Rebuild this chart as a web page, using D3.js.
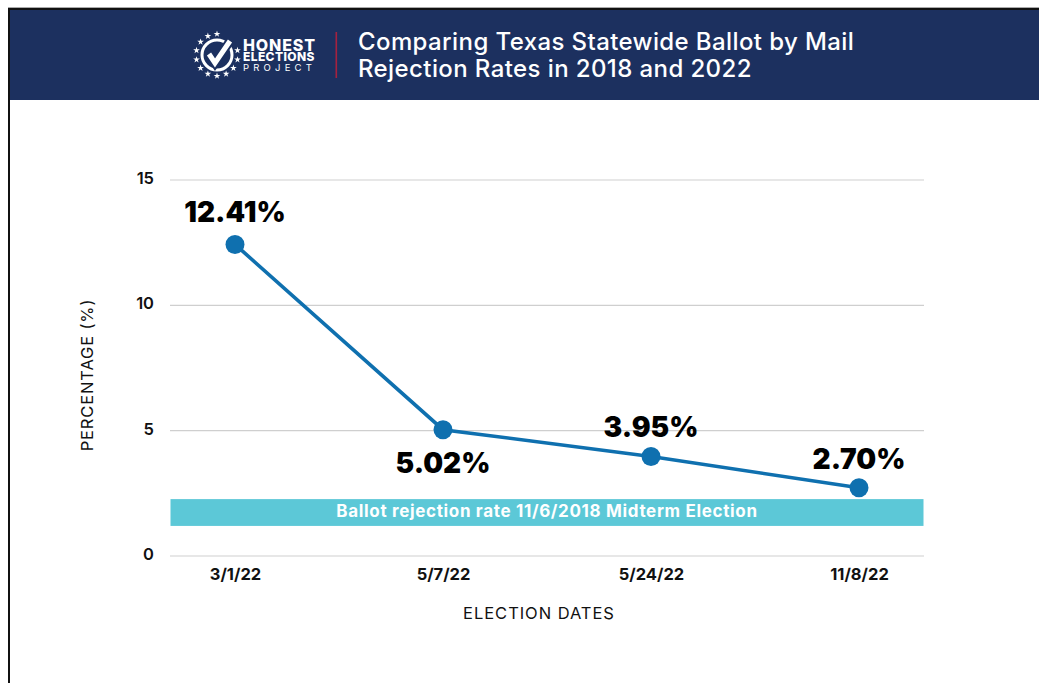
<!DOCTYPE html>
<html>
<head>
<meta charset="utf-8">
<script src="https://cdn.jsdelivr.net/npm/d3@7"></script>
<style>
  html, body { margin: 0; padding: 0; background: #fff; }
  svg { display: block; font-family: Inter, "Open Sans", sans-serif; }
</style>
</head>
<body>
<svg id="chart" width="1039" height="683"></svg>
<script>
// Rejection rates per election date
const electionDates = ["3/1/22", "5/7/22", "5/24/22", "11/8/22"];
const rejectionRates = [12.41, 5.02, 3.95, 2.70];
const yTicks = [0, 5, 10, 15];
const midtermBand = [1.18, 2.25];
const titleLines = ["Comparing Texas Statewide Ballot by Mail", "Rejection Rates in 2018 and 2022"];
const logoLines = ["HONEST", "ELECTIONS", "PROJECT"];
const bandLabel = "Ballot rejection rate 11/6/2018 Midterm Election";
const labelOffsets = [-33, 33, -30, -29];

const svg = d3.select("#chart");
const x = d3.scalePoint().domain(electionDates).range([170, 924]).padding(0.3125);
const y = d3.scaleLinear().domain([0, 15]).range([555.5, 179.5]);

// Page frame and header bar
svg.append("rect").attr("x", 8).attr("y", 7).attr("width", 1031).attr("height", 1).attr("fill", "#aaa");
svg.append("rect").attr("x", 8).attr("y", 8).attr("width", 2).attr("height", 675).attr("fill", "#111");
svg.append("rect").attr("x", 8).attr("y", 8).attr("width", 1031).attr("height", 2).attr("fill", "#111");
svg.append("rect").attr("x", 10).attr("y", 10).attr("width", 1029).attr("height", 90).attr("fill", "#1c305f");

// Logo: ring of stars around a checked circle
const logo = svg.append("g").attr("transform", "translate(217,55)");
logo.append("circle").attr("r", 15).attr("fill", "none").attr("stroke", "#fff").attr("stroke-width", 3);
logo.append("path").attr("d", "M-8,-1 L-2,8 L13,-14")
  .attr("fill", "none").attr("stroke", "#1c305f").attr("stroke-width", 9);
logo.append("path").attr("d", "M-8,-1 L-2,8 L13,-14")
  .attr("fill", "none").attr("stroke", "#fff").attr("stroke-width", 5);
const starAngles = d3.range(14).map(i => i * 360 / 14).filter(a => Math.abs(a - 45) > 20);
logo.selectAll("path.star").data(starAngles).join("path")
  .attr("class", "star")
  .attr("d", d3.symbol(d3.symbolStar, 14))
  .attr("fill", "#fff")
  .attr("transform", a => `rotate(${a}) translate(0,-21) rotate(${-a})`);

const logoText = svg.append("g").attr("fill", "#fff");
logoText.append("text").attr("x", 243).attr("y", 51).attr("font-size", 16).attr("font-weight", 800)
  .attr("letter-spacing", 0.85).text(logoLines[0]);
logoText.append("text").attr("x", 243).attr("y", 61).attr("font-size", 12).attr("font-weight", 800)
  .attr("letter-spacing", 0.4).text(logoLines[1]);
logoText.append("text").attr("x", 243).attr("y", 70.5).attr("font-size", 9.5).attr("font-weight", 400)
  .attr("letter-spacing", 4.2).text(logoLines[2]);

svg.append("rect").attr("x", 335.5).attr("y", 32).attr("width", 1.6).attr("height", 46).attr("fill", "#a5213f");

svg.selectAll("text.title").data(titleLines).join("text")
  .attr("class", "title")
  .attr("x", 358).attr("y", (d, i) => 50 + i * 27)
  .attr("font-size", 24).attr("font-weight", 500)
  .attr("letter-spacing", 0.4)
  .attr("fill", "#fff").text(d => d);

// Horizontal grid lines with y axis numbers
const yAxis = d3.axisLeft(y).tickValues(yTicks).tickSize(-754).tickPadding(16).tickFormat(d3.format("d"));
const yG = svg.append("g").attr("transform", "translate(170,0)").call(yAxis);
yG.select(".domain").remove();
yG.selectAll(".tick line").attr("stroke", "#cfcfcf").attr("stroke-width", 1.2);
yG.selectAll(".tick text").attr("font-size", 16.5).attr("font-weight", 600).attr("dy", "0.25em")
  .attr("font-family", "Inter, sans-serif").attr("fill", "#111");

// Date labels along the bottom
const xAxis = d3.axisBottom(x).tickSize(0).tickPadding(13);
const xG = svg.append("g").attr("transform", "translate(0,555.5)").call(xAxis);
xG.select(".domain").remove();
xG.selectAll(".tick text").attr("font-size", 16.5).attr("font-weight", 700)
  .attr("font-family", "Inter, sans-serif").attr("fill", "#111");

svg.append("text").attr("x", 539).attr("y", 619).attr("text-anchor", "middle")
  .attr("font-size", 16.5).attr("letter-spacing", 0.95).attr("fill", "#111").text("ELECTION DATES");
svg.append("text").attr("transform", "translate(93,375) rotate(-90)").attr("text-anchor", "middle")
  .attr("font-size", 16.5).attr("letter-spacing", 0.85).attr("fill", "#111").text("PERCENTAGE (%)");

// 2018 midterm reference band
svg.append("rect")
  .attr("x", 170.5).attr("width", 753)
  .attr("y", y(midtermBand[1])).attr("height", y(midtermBand[0]) - y(midtermBand[1]))
  .attr("fill", "#5cc8d7");
svg.append("text").attr("x", 547).attr("y", 517).attr("text-anchor", "middle")
  .attr("font-size", 17).attr("font-weight", 700).attr("letter-spacing", 0.66)
  .attr("fill", "#fff").text(bandLabel);

// Rate line, markers and value labels
const points = electionDates.map((d, i) => ({ date: d, rate: rejectionRates[i], dy: labelOffsets[i] }));
svg.append("path").datum(points)
  .attr("fill", "none").attr("stroke", "#0f70af").attr("stroke-width", 3.6)
  .attr("d", d3.line().x(d => x(d.date)).y(d => y(d.rate)));
svg.selectAll("circle.point").data(points).join("circle")
  .attr("class", "point")
  .attr("cx", d => x(d.date)).attr("cy", d => y(d.rate)).attr("r", 9.5)
  .attr("fill", "#0f70af");
svg.selectAll("text.value").data(points).join("text")
  .attr("class", "value")
  .attr("x", d => x(d.date)).attr("y", d => y(d.rate) + d.dy)
  .attr("dy", "0.36em").attr("text-anchor", "middle")
  .attr("font-size", 28).attr("font-weight", 900).attr("fill", "#000")
  .text(d => d.rate.toFixed(2) + "%");
</script>
</body>
</html>
